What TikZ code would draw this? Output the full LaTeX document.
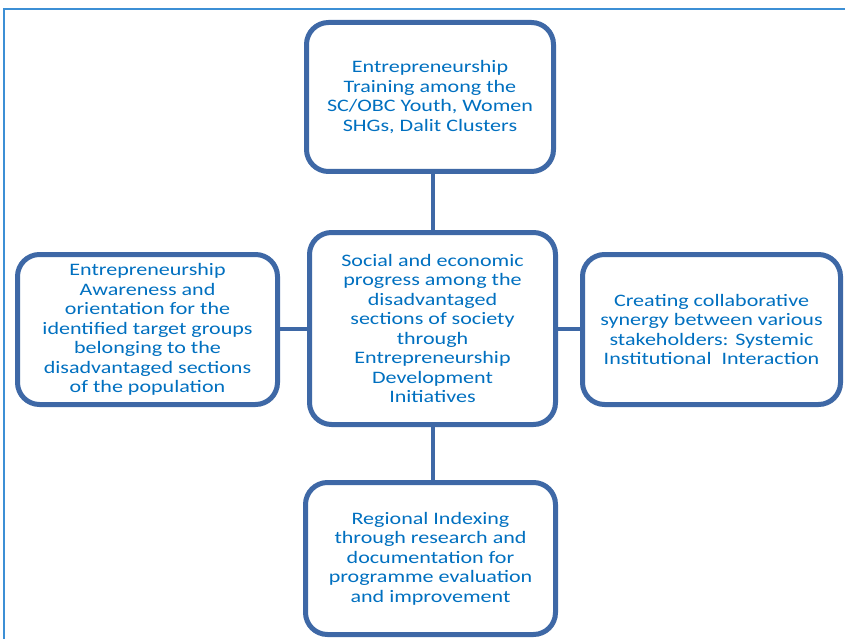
\documentclass[tikz,border=0pt]{standalone}
\usepackage{fontspec}
\setmainfont[FakeStretch=1.26]{Carlito}
\usetikzlibrary{shadows}
\definecolor{boxblue}{HTML}{3E68A6}
\definecolor{txtblue}{HTML}{0070C0}
\definecolor{frameblue}{HTML}{3C8FD5}
\tikzset{
  topic/.style={draw=boxblue, line width=5pt, fill=white, rounded corners=22pt,
    align=center, text=txtblue, inner sep=0pt,
    font=\fontsize{17.5}{19.5}\selectfont,
    drop shadow={opacity=0.15, shadow xshift=2pt, shadow yshift=-2pt}},
  link/.style={draw=boxblue, line width=4pt}
}
\begin{document}
\begin{tikzpicture}[x=1pt,y=-1pt]
\useasboundingbox (0,0) rectangle (845,639);
\draw[frameblue, line width=1.5pt] (4,639) -- (4,9) -- (845,9);
\node[topic, minimum width=247pt, minimum height=149pt] (t) at (430,97)
  {Entrepreneurship\\Training among the\\SC/OBC Youth, Women\\SHGs, Dalit Clusters};
\node[topic, minimum width=246pt, minimum height=192pt] (c) at (432.5,328.5)
  {Social and economic\\progress among the\\disadvantaged\\sections of society\\through\\Entrepreneurship\\Development\\Initiatives};
\node[topic, minimum width=260pt, minimum height=150pt] (l) at (147.5,329.5)
  {Entrepreneurship\\Awareness and\\orientation for the\\identified target groups\\belonging to the\\disadvantaged sections\\of the population};
\node[topic, minimum width=258pt, minimum height=150pt] (r) at (711.5,329.5)
  {Creating collaborative\\synergy between various\\stakeholders: Systemic\\Institutional~ Interaction};
\node[topic, minimum width=250pt, minimum height=152pt] (b) at (430.5,558.5)
  {Regional Indexing\\through research and\\documentation for\\programme evaluation\\and improvement};
\draw[link] (c.north) -- (c.north |- t.south);
\draw[link] (c.south) -- (c.south |- b.north);
\draw[link] (c.west) -- (c.west -| l.east);
\draw[link] (c.east) -- (c.east -| r.west);
\end{tikzpicture}
\end{document}
